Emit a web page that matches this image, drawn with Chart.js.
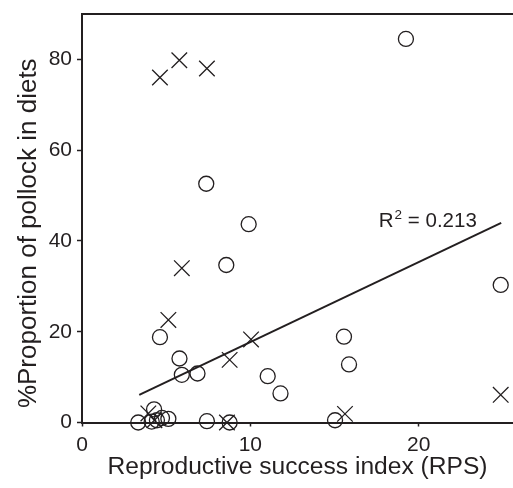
<!DOCTYPE html>
<html>
<head>
<meta charset="utf-8">
<script src="https://cdn.jsdelivr.net/npm/chart.js@4.4.1/dist/chart.umd.min.js"></script>
<style>
  html, body { margin: 0; padding: 0; background: #fff; }
  canvas { display: block; }
</style>
</head>
<body>
<canvas id="chart" width="513" height="488"></canvas>
<script>
// values
const circleX = [19.24, 7.38, 9.9, 8.57, 24.87, 4.63, 15.56, 5.79, 15.86, 5.93, 6.86, 11.03, 11.79, 15.03, 7.42, 8.77, 3.34, 4.14, 4.45, 4.75, 5.13, 4.28];
const circleY = [84.5, 52.6, 43.7, 34.7, 30.3, 18.8, 18.9, 14.1, 12.8, 10.5, 10.8, 10.2, 6.4, 0.5, 0.3, 0, 0, 0.2, 0.5, 1.0, 0.8, 2.9];
const crossX = [4.63, 5.78, 7.42, 5.93, 5.13, 10.04, 8.77, 24.87, 15.62, 8.61, 3.94, 4.3];
const crossY = [76.0, 79.8, 78.0, 34.0, 22.6, 18.3, 13.8, 6.1, 1.9, 0, 2.0, 0.5];
const fitX = [3.4, 24.9];
const fitY = [6.1, 44.0];
const xTicks = [0, 10, 20];
const yTicks = [0, 20, 40, 60, 80];
const yTitle = '%Proportion of pollock in diets';
const r2Label = { pos: [17.63, 44.6], base: 'R', sup: '2', rest: ' = 0.213' };

const ink = '#231f20';
const fontFam = '"Liberation Sans", Arial, sans-serif';
const pts = (xs, ys) => xs.map((x, i) => ({ x, y: ys[i] }));

// R^2 annotation with a real superscript, plus the y title (drawn by hand so it
// can sit a bit below the chart-area centre, as in the original)
const textPlugin = {
  id: 'texts',
  afterDraw(chart) {
    const { ctx, scales, chartArea } = chart;
    let px = scales.x.getPixelForValue(r2Label.pos[0]);
    const py = scales.y.getPixelForValue(r2Label.pos[1]);
    ctx.save();
    ctx.fillStyle = ink;
    ctx.textBaseline = 'alphabetic';
    ctx.font = '20.5px ' + fontFam;
    ctx.fillText(r2Label.base, px, py + 7);
    px += ctx.measureText(r2Label.base).width + 1;
    ctx.font = '13.5px ' + fontFam;
    ctx.fillText(r2Label.sup, px, py - 1);
    px += ctx.measureText(r2Label.sup).width;
    ctx.font = '20.5px ' + fontFam;
    ctx.fillText(r2Label.rest, px, py + 7);

    ctx.translate(36, (chartArea.top + chartArea.bottom) / 2 + 15);
    ctx.rotate(-Math.PI / 2);
    ctx.textAlign = 'center';
    ctx.font = '26px ' + fontFam;
    ctx.fillText(yTitle, 0, 0);
    ctx.restore();
  }
};

Chart.defaults.font.family = fontFam;
Chart.defaults.color = ink;

new Chart(document.getElementById('chart'), {
  type: 'scatter',
  data: {
    datasets: [
      {
        data: pts(circleX, circleY),
        pointStyle: 'circle',
        pointRadius: 7.5,
        borderColor: ink,
        backgroundColor: 'rgba(0,0,0,0)',
        borderWidth: 1.3,
        clip: false
      },
      {
        data: pts(crossX, crossY),
        pointStyle: 'crossRot',
        pointRadius: 11,
        borderColor: ink,
        borderWidth: 1.3,
        clip: false
      },
      {
        type: 'line',
        data: pts(fitX, fitY),
        borderColor: ink,
        borderWidth: 2,
        pointRadius: 0,
        fill: false
      }
    ]
  },
  options: {
    responsive: false,
    animation: false,
    events: [],
    // no auto padding: the plot runs right up to the canvas edge like the original
    layout: { autoPadding: false, padding: { top: 14, right: 0, left: 0, bottom: 0 } },
    plugins: { legend: { display: false }, tooltip: { enabled: false } },
    scales: {
      x: {
        type: 'linear',
        min: 0,
        max: 25.6,
        afterBuildTicks: s => { s.ticks = xTicks.map(v => ({ value: v })); },
        afterFit: s => { s.height = 65.5; s.paddingLeft = 0; s.paddingRight = 0; },
        border: { display: true, color: ink, width: 2 },
        grid: { drawOnChartArea: false, drawTicks: true, tickLength: 4, tickColor: ink, tickWidth: 1.5 },
        ticks: { font: { size: 21 }, color: ink, padding: 6, maxRotation: 0 },
        title: {
          display: true,
          text: 'Reproductive success index (RPS)',
          font: { size: 24.6 },
          color: ink,
          padding: { top: 0, bottom: 6 }
        }
      },
      xTop: {
        type: 'linear',
        position: 'top',
        min: 0,
        max: 25.6,
        afterFit: s => { s.height = 0; s.paddingLeft = 0; s.paddingRight = 0; },
        border: { display: true, color: ink, width: 2 },
        grid: { display: false, drawTicks: false },
        ticks: { display: false }
      },
      y: {
        type: 'linear',
        min: 0,
        max: 90,
        afterBuildTicks: s => { s.ticks = yTicks.map(v => ({ value: v })); },
        afterFit: s => { s.width = 82; s.paddingTop = 0; s.paddingBottom = 0; },
        border: { display: true, color: ink, width: 2 },
        grid: { drawOnChartArea: false, drawTicks: true, tickLength: 5, tickColor: ink, tickWidth: 1.5 },
        ticks: { font: { size: 21 }, color: ink, padding: 5 },
        title: { display: false }
      }
    }
  },
  plugins: [textPlugin]
});
</script>
</body>
</html>
